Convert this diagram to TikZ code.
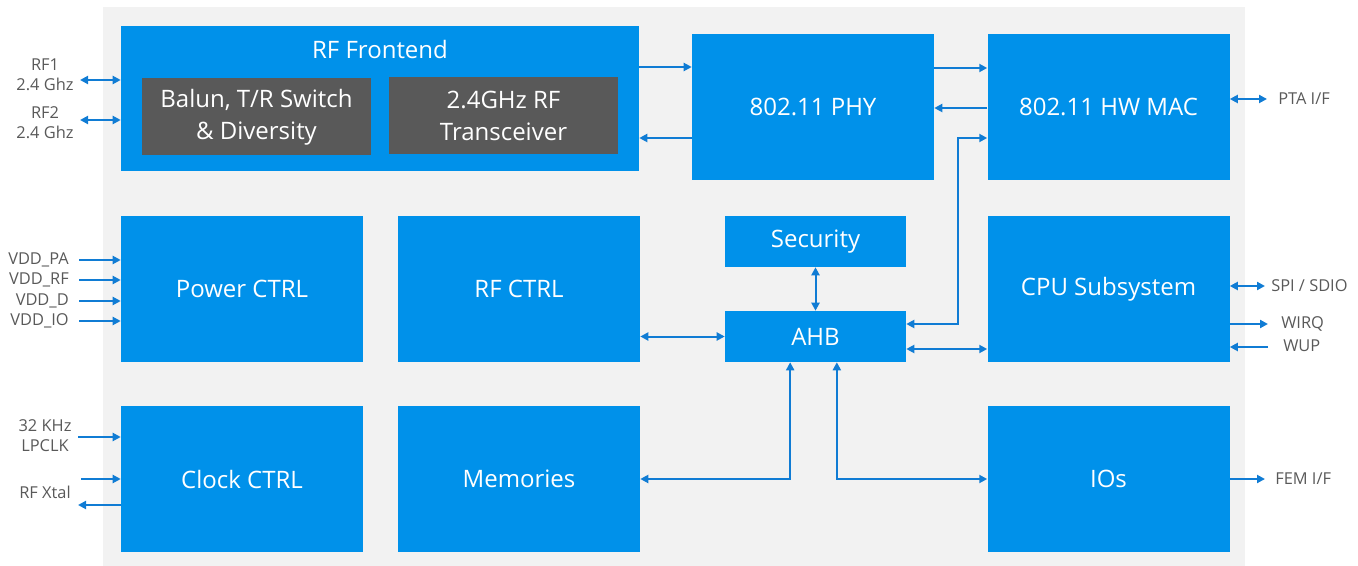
\documentclass[tikz,border=0pt]{standalone}
\usepackage{fontspec}
\setmainfont{Open Sans}
\usepackage{tikz}
\usetikzlibrary{positioning, arrows.meta, calc}
\definecolor{blkcolor}{RGB}{0,145,234}
\definecolor{linkcolor}{RGB}{16,124,212}
\definecolor{subcolor}{RGB}{89,89,89}
\definecolor{chipcolor}{RGB}{242,242,242}
\definecolor{pincolor}{RGB}{89,89,89}

\begin{document}
\begin{tikzpicture}[x=0.75pt, y=-0.75pt,
    blk/.style={rectangle, fill=blkcolor, text=white, align=center, inner sep=0pt,
        font=\fontsize{18}{24}\selectfont, minimum width=181.5pt, minimum height=109.5pt},
    smallblk/.style={blk, minimum width=135.75pt, minimum height=38.25pt},
    subblk/.style={blk, fill=subcolor, minimum width=171.75pt, minimum height=57.75pt},
    ext/.style={text=pincolor, align=center, inner sep=0pt, font=\fontsize{12.3}{15}\selectfont},
    link/.style={draw=linkcolor, line width=1.5pt, -{Triangle[length=6pt,width=6pt]}},
    dlink/.style={link, {Triangle[length=6pt,width=6pt]}-{Triangle[length=6pt,width=6pt]}}]
    \useasboundingbox (0,0) rectangle (1358,566);
    \fill[chipcolor] (103,7) rectangle (1245,566);

    % top row
    \node[blk, minimum width=388.5pt, minimum height=108.75pt] (rffe) at (380,98.5) {};
    \node[text=white, font=\fontsize{18}{24}\selectfont] (rffetitle) at (380,50) {RF Frontend};
    \node[subblk] (balun) at (256.5,117) {Balun, T/R Switch\\\& Diversity};
    \node[subblk] (trx) at (503.5,116) {2.4GHz RF\\Transceiver};
    \node[blk] (phy) at (813,107) {802.11 PHY};
    \node[blk] (mac) at (1108.5,107) {802.11 HW MAC};

    % middle row
    \node[blk] (pwr) at (242,289) {Power CTRL};
    \node[blk] (rfc) at (519,289) {RF CTRL};
    \node[smallblk] (sec) at (815.5,241.5) {Security};
    \node[smallblk] (ahb) at (815.5,336.5) {AHB};
    \node[blk] (cpu) at (1108.5,289) {CPU Subsystem};

    % bottom row
    \node[blk] (clk) at (242,479) {Clock CTRL};
    \node[blk] (mem) at (519,479) {Memories};
    \node[blk] (ios) at (1108.5,479) {IOs};

    % internal links
    \draw[link] (rffe.east |- 0,67) -- (phy.west |- 0,67);
    \draw[link] (phy.west |- 0,138) -- (rffe.east |- 0,138);
    \draw[link] (phy.east |- 0,68) -- (mac.west |- 0,68);
    \draw[link] (mac.west |- 0,108) -- (phy.east |- 0,108);
    \coordinate (macbus) at (958,138);
    \draw[dlink] (ahb.east |- 0,324) -| (macbus) -- (mac.west |- macbus);
    \draw[dlink] (sec.south) -- (ahb.north);
    \draw[dlink] (rfc.east |- ahb.west) -- (ahb.west);
    \draw[dlink] (ahb.east |- 0,349) -- (cpu.west |- 0,349);
    \draw[dlink] (mem.east) -| ([xshift=-19pt]ahb.south);
    \draw[dlink] (ios.west) -| ([xshift=16pt]ahb.south);

    % left pins
    \node[ext] (rf1) at (45,75) {RF1\\2.4 Ghz};
    \node[ext] (rf2) at (45,123) {RF2\\2.4 Ghz};
    \coordinate (rf1p) at (80,80);
    \coordinate (rf2p) at (80,120);
    \draw[dlink] (rf1p) -- (rffe.west |- rf1p);
    \draw[dlink] (rf2p) -- (rffe.west |- rf2p);
    \foreach \pname/\py [count=\i] in {VDD\_PA/260, VDD\_RF/280, VDD\_D/301, VDD\_IO/321} {
        \node[ext, anchor=east] (vdd\i) at (69,\py) {\pname};
        \coordinate (vddp\i) at (79,\py);
        \draw[link] (vddp\i) -- (pwr.west |- vddp\i);
    }
    \node[ext] (lpclk) at (45,436) {32 KHz\\LPCLK};
    \node[ext] (xtal) at (45,492) {RF Xtal};
    \coordinate (lpclkp) at (78,437);
    \coordinate (xtalin) at (81,479);
    \coordinate (xtalout) at (78,505);
    \draw[link] (lpclkp) -- (clk.west |- lpclkp);
    \draw[link] (xtalin) -- (clk.west |- xtalin);
    \draw[link] (clk.west |- xtalout) -- (xtalout);

    % right pins
    \node[ext, anchor=west] (pta) at (1278,99) {PTA I/F};
    \node[ext, anchor=west] (spi) at (1271,286) {SPI / SDIO};
    \node[ext, anchor=west] (wirq) at (1281,324) {WIRQ};
    \node[ext, anchor=west] (wup) at (1283,346) {WUP};
    \node[ext, anchor=west] (fem) at (1275,479) {FEM I/F};
    \coordinate (ptap) at (1267,99);
    \coordinate (spip) at (1265,286);
    \coordinate (wirqp) at (1268,324);
    \coordinate (wupp) at (1268,347);
    \coordinate (femp) at (1265,479);
    \draw[dlink] (mac.east |- ptap) -- (ptap);
    \draw[dlink] (cpu.east |- spip) -- (spip);
    \draw[link] (cpu.east |- wirqp) -- (wirqp);
    \draw[link] (wupp) -- (cpu.east |- wupp);
    \draw[link] (ios.east |- femp) -- (femp);
\end{tikzpicture}
\end{document}
